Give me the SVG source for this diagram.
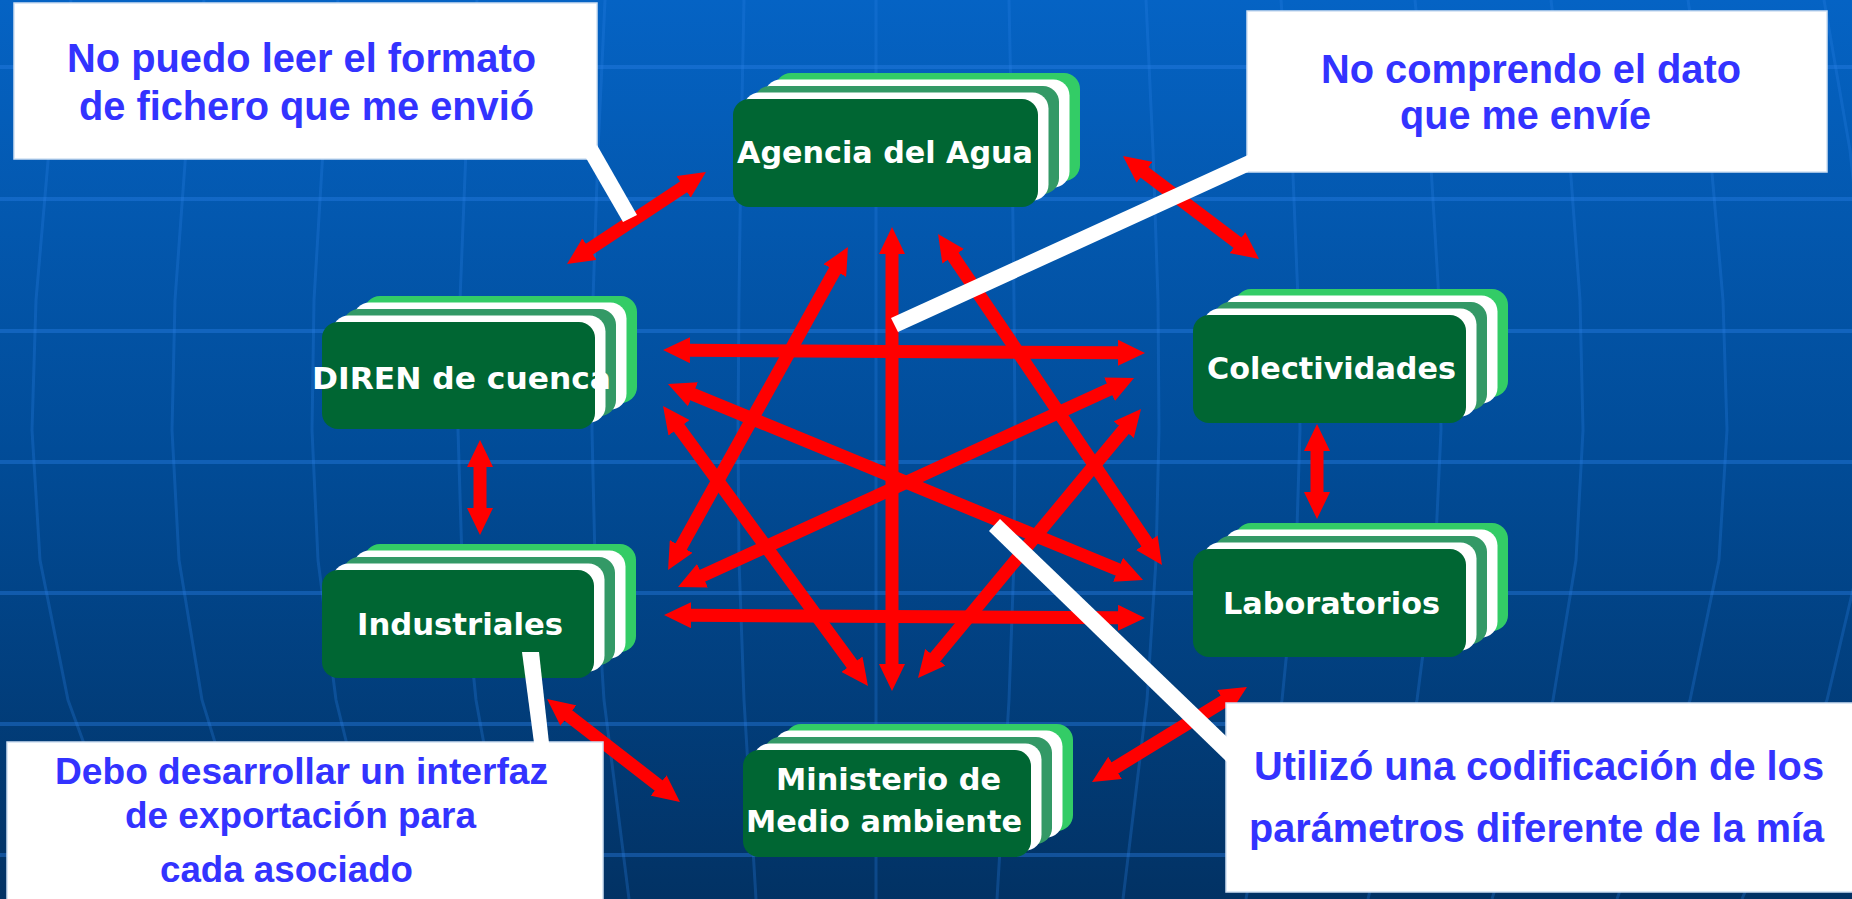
<svg xmlns="http://www.w3.org/2000/svg" width="1852" height="899" viewBox="0 0 1852 899">
<defs>
<linearGradient id="bg" x1="0" y1="0" x2="0" y2="1">
<stop offset="0" stop-color="#0563c4"/>
<stop offset="0.5" stop-color="#014c98"/>
<stop offset="1" stop-color="#023264"/>
</linearGradient>
<marker id="ah" markerUnits="userSpaceOnUse" viewBox="0 0 27 26" markerWidth="27" markerHeight="26" refX="1" refY="13" orient="auto-start-reverse">
<path d="M0,0 L27,13 L0,26 z" fill="#ff0000"/>
</marker>
</defs>
<style>
.grid line,.grid polyline{fill:none;stroke:#2a80e6}
.grid line{stroke-width:4;stroke-opacity:0.4}
.grid polyline{stroke-width:3;stroke-opacity:0.28}
.arr line{stroke:#ff0000;stroke-width:13;marker-start:url(#ah);marker-end:url(#ah)}
.g0{fill:#006633}.gw{fill:#ffffff}.gm{fill:#339966}.gl{fill:#33cc66}
.nt{font-family:"DejaVu Sans","Verdana",sans-serif;font-weight:bold;font-size:30px;fill:#ffffff}
.cb{fill:#ffffff;stroke:#cfe0f2;stroke-width:1.5}
.ct{fill:#ffffff}
.tx{font-family:"Liberation Sans",Arial,sans-serif;font-weight:bold;fill:#3333ff}
</style>
<rect width="1852" height="899" fill="url(#bg)"/>
<g class="grid">
<line x1="0" y1="67" x2="1852" y2="67"/>
<line x1="0" y1="199" x2="1852" y2="199"/>
<line x1="0" y1="331" x2="1852" y2="331"/>
<line x1="0" y1="462" x2="1852" y2="462"/>
<line x1="0" y1="593" x2="1852" y2="593"/>
<line x1="0" y1="724" x2="1852" y2="724"/>
<line x1="0" y1="855" x2="1852" y2="855"/>
<polyline points="71,0 49,150 36,300 32,430 40,560 68,700 141,899"/>
<polyline points="204,0 186,150 175,300 172,430 179,560 202,700 263,899"/>
<polyline points="338,0 323,150 314,300 312,430 318,560 336,700 385,899"/>
<polyline points="477,0 466,150 460,300 458,430 462,560 476,700 512,899"/>
<polyline points="605,0 598,150 593,300 592,430 595,560 604,700 629,899"/>
<polyline points="744,0 741,150 739,300 738,430 739,560 744,700 756,899"/>
<polyline points="876,0 876,150 876,300 876,430 876,560 876,700 876,899"/>
<polyline points="1009,0 1012,150 1014,300 1015,430 1014,560 1009,700 997,899"/>
<polyline points="1146,0 1153,150 1158,300 1159,430 1156,560 1147,700 1123,899"/>
<polyline points="1281,0 1292,150 1298,300 1300,430 1296,560 1282,700 1246,899"/>
<polyline points="1415,0 1430,150 1439,300 1441,430 1435,560 1417,700 1368,899"/>
<polyline points="1551,0 1569,150 1580,300 1583,430 1576,560 1553,700 1492,899"/>
<polyline points="1688,0 1710,150 1723,300 1727,430 1719,560 1690,700 1617,899"/>
<polyline points="1824,0 1850,150 1866,300 1870,430 1860,560 1827,700 1742,899"/>
</g>
<g id="connectors" class="arr">
<line x1="689" y1="350.2" x2="1119" y2="352.8"/>
<line x1="690" y1="615.2" x2="1119" y2="617.8"/>
<line x1="892" y1="253" x2="892" y2="665"/>
<line x1="692" y1="393.9" x2="1119" y2="570.1"/>
<line x1="701.6" y1="576.2" x2="1110.4" y2="388.8"/>
<line x1="678.4" y1="427" x2="852.6" y2="665"/>
<line x1="680.7" y1="547.3" x2="835.3" y2="269.7"/>
<line x1="952.6" y1="255.5" x2="1147.4" y2="543.5"/>
<line x1="1124.4" y1="429" x2="934.6" y2="658"/>
<line x1="588.7" y1="249.7" x2="684.3" y2="186.3"/>
<line x1="1143.7" y1="171.7" x2="1238.3" y2="243.3"/>
<line x1="480" y1="466" x2="480" y2="509"/>
<line x1="567.6" y1="714.9" x2="659.4" y2="786.1"/>
<line x1="1114.2" y1="768.4" x2="1224.8" y2="700.6"/>
<line x1="1317" y1="450" x2="1317" y2="493"/>
</g>
<g id="node-agencia">
<rect class="gl" x="775" y="73" width="305" height="108" rx="16"/>
<rect class="gw" x="764.5" y="79.5" width="305" height="108" rx="16"/>
<rect class="gm" x="754" y="86" width="305" height="108" rx="16"/>
<rect class="gw" x="743.5" y="92.5" width="305" height="108" rx="16"/>
<rect class="g0" x="733" y="99" width="305" height="108" rx="16"/>
<text class="nt" x="737" y="163" textLength="296" lengthAdjust="spacingAndGlyphs">Agencia del Agua</text>
</g>
<g id="node-diren">
<rect class="gl" x="364" y="296" width="273" height="107" rx="16"/>
<rect class="gw" x="353.5" y="302.5" width="273" height="107" rx="16"/>
<rect class="gm" x="343" y="309" width="273" height="107" rx="16"/>
<rect class="gw" x="332.5" y="315.5" width="273" height="107" rx="16"/>
<rect class="g0" x="322" y="322" width="273" height="107" rx="16"/>
<text class="nt" x="312" y="389" textLength="299" lengthAdjust="spacingAndGlyphs">DIREN de cuenca</text>
</g>
<g id="node-industriales">
<rect class="gl" x="364" y="544" width="272" height="108" rx="16"/>
<rect class="gw" x="353.5" y="550.5" width="272" height="108" rx="16"/>
<rect class="gm" x="343" y="557" width="272" height="108" rx="16"/>
<rect class="gw" x="332.5" y="563.5" width="272" height="108" rx="16"/>
<rect class="g0" x="322" y="570" width="272" height="108" rx="16"/>
<text class="nt" x="357" y="635" textLength="206" lengthAdjust="spacingAndGlyphs">Industriales</text>
</g>
<g id="node-colectividades">
<rect class="gl" x="1235" y="289" width="273" height="108" rx="16"/>
<rect class="gw" x="1224.5" y="295.5" width="273" height="108" rx="16"/>
<rect class="gm" x="1214" y="302" width="273" height="108" rx="16"/>
<rect class="gw" x="1203.5" y="308.5" width="273" height="108" rx="16"/>
<rect class="g0" x="1193" y="315" width="273" height="108" rx="16"/>
<text class="nt" x="1207" y="379" textLength="249" lengthAdjust="spacingAndGlyphs">Colectividades</text>
</g>
<g id="node-laboratorios">
<rect class="gl" x="1235" y="523" width="273" height="108" rx="16"/>
<rect class="gw" x="1224.5" y="529.5" width="273" height="108" rx="16"/>
<rect class="gm" x="1214" y="536" width="273" height="108" rx="16"/>
<rect class="gw" x="1203.5" y="542.5" width="273" height="108" rx="16"/>
<rect class="g0" x="1193" y="549" width="273" height="108" rx="16"/>
<text class="nt" x="1223" y="614" textLength="217" lengthAdjust="spacingAndGlyphs">Laboratorios</text>
</g>
<g id="node-ministerio">
<rect class="gl" x="785" y="724" width="288" height="107" rx="16"/>
<rect class="gw" x="774.5" y="730.5" width="288" height="107" rx="16"/>
<rect class="gm" x="764" y="737" width="288" height="107" rx="16"/>
<rect class="gw" x="753.5" y="743.5" width="288" height="107" rx="16"/>
<rect class="g0" x="743" y="750" width="288" height="107" rx="16"/>
<text class="nt" x="776" y="790" textLength="225" lengthAdjust="spacingAndGlyphs">Ministerio de</text>
<text class="nt" x="746" y="832" textLength="276" lengthAdjust="spacingAndGlyphs">Medio ambiente</text>
</g>
<g id="callout-formato">
<rect class="cb" x="14" y="3" width="583" height="156"/>
<polygon class="ct" points="586,158 623,222 637,215 597,145"/>
<text class="tx" font-size="40" x="67" y="72" textLength="469" lengthAdjust="spacingAndGlyphs">No puedo leer el formato</text>
<text class="tx" font-size="40" x="79" y="120" textLength="455" lengthAdjust="spacingAndGlyphs">de fichero que me envió</text>
</g>
<g id="callout-dato">
<rect class="cb" x="1247" y="11" width="580" height="161"/>
<polygon class="ct" points="1248,155 891,318 898,332 1248,172"/>
<text class="tx" font-size="40" x="1321" y="83" textLength="420" lengthAdjust="spacingAndGlyphs">No comprendo el dato</text>
<text class="tx" font-size="40" x="1400" y="129" textLength="251" lengthAdjust="spacingAndGlyphs">que me envíe</text>
</g>
<g id="callout-interfaz">
<rect class="cb" x="7" y="742" width="596" height="170"/>
<polygon class="ct" points="522,652 539,652 549,743 534,743"/>
<text class="tx" font-size="37" x="55" y="784" textLength="493" lengthAdjust="spacingAndGlyphs">Debo desarrollar un interfaz</text>
<text class="tx" font-size="37" x="125" y="828" textLength="351" lengthAdjust="spacingAndGlyphs">de exportación para</text>
<text class="tx" font-size="37" x="160" y="882" textLength="253" lengthAdjust="spacingAndGlyphs">cada asociado</text>
</g>
<g id="callout-codificacion">
<rect class="cb" x="1226" y="703" width="640" height="189"/>
<polygon class="ct" points="1000,519 1227,737 1227,762 989,531"/>
<text class="tx" font-size="40" x="1254" y="780" textLength="570" lengthAdjust="spacingAndGlyphs">Utilizó una codificación de los</text>
<text class="tx" font-size="40" x="1249" y="842" textLength="575" lengthAdjust="spacingAndGlyphs">parámetros diferente de la mía</text>
</g>
</svg>
